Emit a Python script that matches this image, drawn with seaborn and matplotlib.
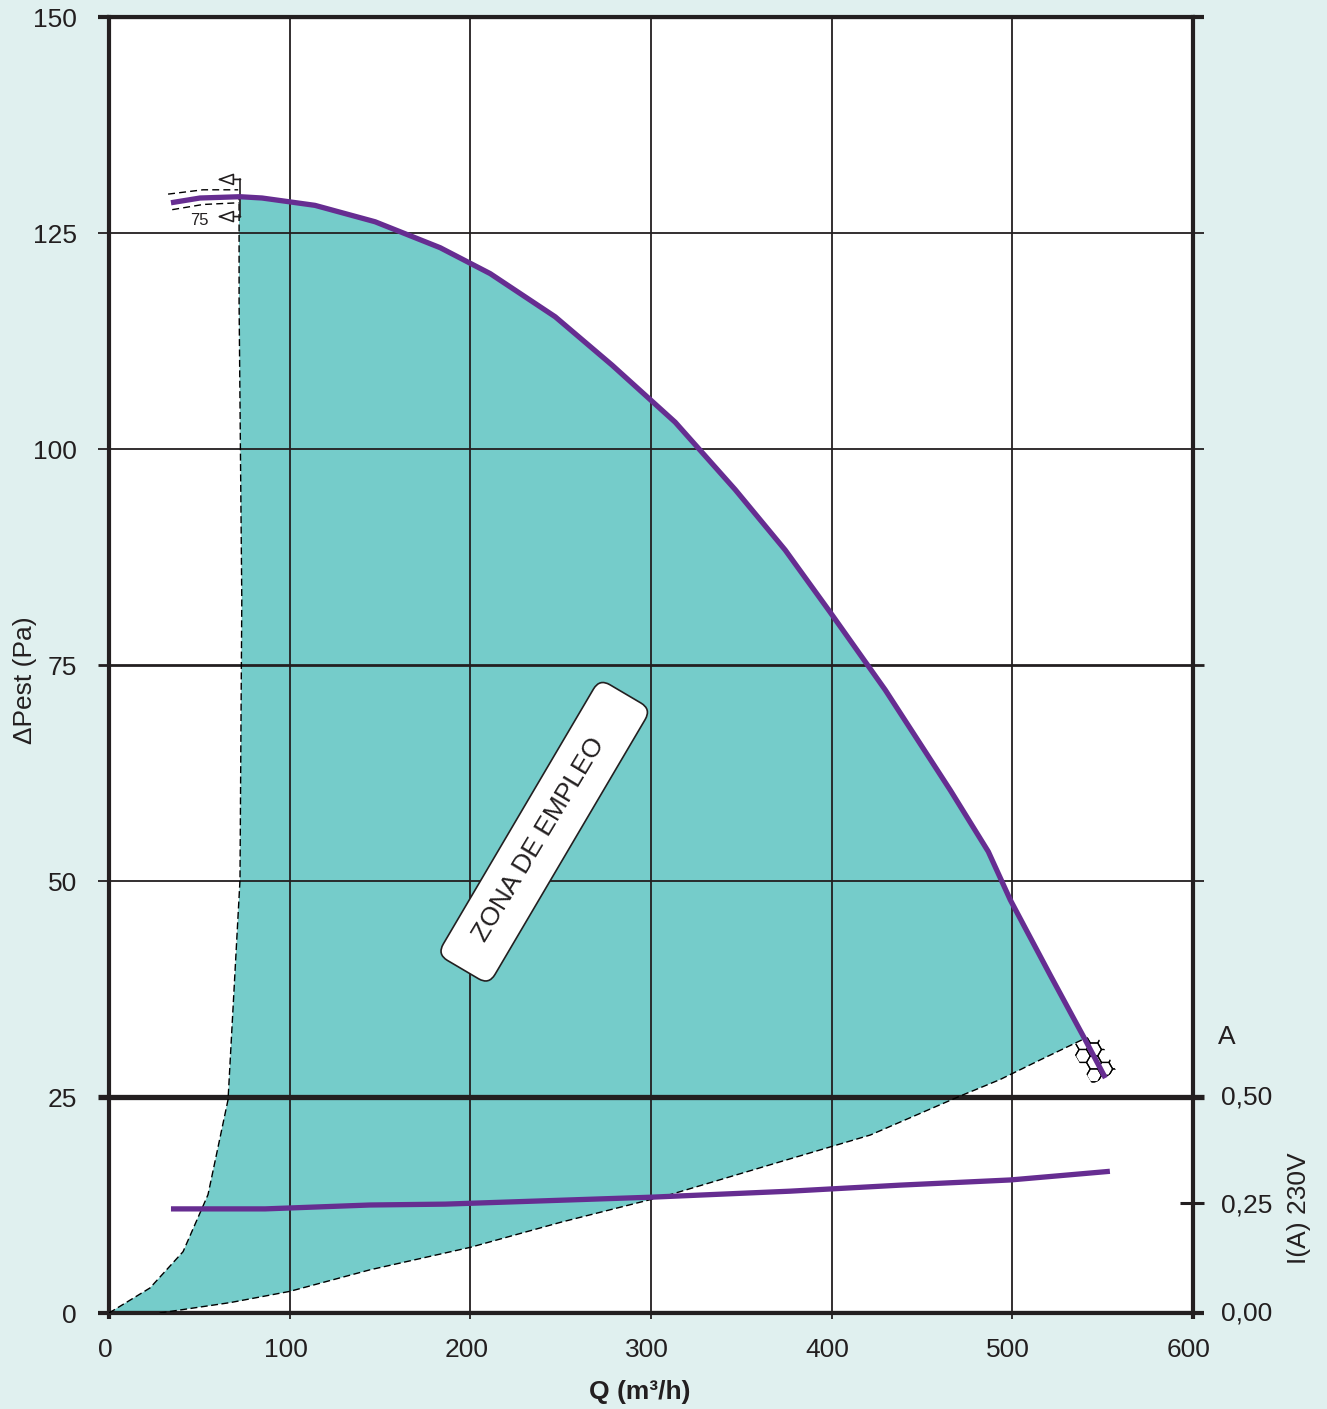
import matplotlib
matplotlib.use('Agg')
import matplotlib.pyplot as plt
import matplotlib.transforms as mtrans
from matplotlib.patches import FancyBboxPatch, Polygon
import pandas as pd
import seaborn as sns

# values
q_curve = [34.3, 50.4, 72.5, 84.7, 114, 147.3, 183.3, 211, 247, 278.5, 313.4, 346.6,
           374.3, 399.2, 429.7, 465.7, 486.7, 498.9, 521, 540.4, 551.5]
p_curve = [128.5, 129.05, 129.2, 129.05, 128.2, 126.3, 123.3, 120.3, 115.3, 109.7, 103.1, 95.3,
           88.3, 81.1, 72.1, 60.5, 53.4, 47.8, 39.1, 31.6, 27.2]

q_zone_left = [0, 22.7, 41, 54.8, 65.9, 72.5, 73.5, 72, 72]
p_zone_left = [0, 2.9, 7.1, 13.7, 24.7, 50.1, 82.5, 117, 129.2]
q_zone_low = [28, 67, 100, 144.5, 200, 250, 310.6, 371.5, 421.4, 471, 493, 515.5, 540.4]
p_zone_low = [0, 1.2, 2.5, 5, 7.6, 10.5, 13.7, 17.5, 20.6, 25.1, 27, 29.3, 31.8]

q_amps = [34.3, 86.4, 144.5, 186, 299.6, 377, 438, 499, 526.6, 554]
i_amps = [0.241, 0.241, 0.25, 0.252, 0.268, 0.282, 0.296, 0.308, 0.318, 0.328]

# dashed speed limits next to the top of the curve
q_lim_hi = [32.7, 52, 71.5]
p_lim_hi = [129.5, 130, 130]
q_lim_lo = [35, 52, 71.9]
p_lim_lo = [127.7, 128.3, 128.5]

x_ticks = [0, 100, 200, 300, 400, 500, 600]
y_ticks = [0, 25, 50, 75, 100, 125, 150]
y_widths = [3.0, 3.8, 1.3, 2.0, 1.3, 1.3, 3.0]
amp_ticks = [0.0, 0.25, 0.5]
amp_labels = ['0,00', '0,25', '0,50']

# honeycomb at the free-air end of the curve
q_hex = [532.8, 532.8, 532.8, 532.8, 532.8,
         539, 539, 539, 539, 539,
         545.2, 545.2, 545.2, 545.2, 545.2,
         551.4, 551.4, 551.4, 551.4, 551.4,
         557.6, 557.6, 557.6, 557.6, 557.6]
p_hex = [26, 27.5, 29, 30.5, 32,
         26.75, 28.25, 29.75, 31.25, 32.75,
         26, 27.5, 29, 30.5, 32,
         26.75, 28.25, 29.75, 31.25, 32.75,
         26, 27.5, 29, 30.5, 32]
q_strip = [532.1, 546, 557.6, 544.3]
p_strip = [30.8, 32.4, 28, 26.5]

BG = '#e0f0ef'
TEAL = '#75ccca'
PURPLE = '#662d91'
INK = '#231f20'

sns.set_style('white')
plt.rcParams['font.family'] = ['Liberation Sans', 'DejaVu Sans']
plt.rcParams['font.size'] = 19
plt.rcParams['text.color'] = INK

fig = plt.figure(figsize=(13.27, 14.09), dpi=100, facecolor=BG)
ax = fig.add_axes([109 / 1327, 1 - 1313 / 1409, (1193 - 109) / 1327, (1313 - 17) / 1409])
ax.set_facecolor('white')

# zone: left edge, along the fan curve, back along the lower edge
zone_q = q_zone_left + q_curve[3:-2] + [540.4] + q_zone_low[::-1]
zone_p = p_zone_left + p_curve[3:-2] + [31.8] + p_zone_low[::-1]
ax.fill(zone_q, zone_p, color=TEAL, lw=0, zorder=1)

ax.set_xlim(0, 600)
ax.set_ylim(0, 150)
ax.set_xticks(x_ticks)
ax.set_yticks(y_ticks)
ax.grid(True, color=INK, lw=1.3, zorder=2)
ax.set_axisbelow(False)

dash = dict(color='black', lw=1.0, zorder=3, sort=False, estimator=None)
sns.lineplot(x=q_zone_left, y=p_zone_left, ax=ax, ls=(0, (5, 2.5)), **dash)
sns.lineplot(x=q_zone_low, y=p_zone_low, ax=ax, ls=(0, (5, 2.5)), **dash)
sns.lineplot(x=q_lim_hi, y=p_lim_hi, ax=ax, ls=(0, (5, 3)), **dash)
sns.lineplot(x=q_lim_lo, y=p_lim_lo, ax=ax, ls=(0, (5, 3)), **dash)

# honeycomb, clipped to a tilted strip across the end of the curve
strip = Polygon(list(zip(q_strip, p_strip)), transform=ax.transData)
hexes = ax.scatter(q_hex, p_hex, marker='H', s=117, facecolor='none', edgecolor='black', lw=0.9, zorder=3)
hexes.set_clip_path(strip)

sns.lineplot(data=pd.DataFrame({'q': q_curve, 'p': p_curve}), x='q', y='p', ax=ax, sort=False,
             estimator=None, color=PURPLE, lw=3.8, zorder=5, solid_capstyle='butt')

# min speed bracket with the two little arrows
ax.plot([72.5, 72.5], [126.9, 131.2], color=INK, lw=1.2, zorder=4)
arrow = dict(arrowstyle='-|>,head_width=0.36,head_length=1.0', mutation_scale=10, fc='white', ec=INK, lw=1.2,
             shrinkA=0, shrinkB=0)
ax.annotate('', xy=(59.8, 131.2), xytext=(72.8, 131.2), arrowprops=arrow, zorder=4)
ax.annotate('', xy=(59.8, 126.9), xytext=(72.8, 126.9), arrowprops=arrow, zorder=4)
ax.text(49.8, 126.4, '75', fontsize=12, ha='center', va='center', zorder=4)

# label box is wider on the top end than the text, so draw it apart (sizes in px)
box_tr = mtrans.Affine2D().rotate_deg(59.5) + mtrans.ScaledTranslation(240.9, 55.7, ax.transData)
ax.add_patch(FancyBboxPatch((-160, -30), 320, 60, boxstyle='round,pad=0,rounding_size=12',
                            fc='white', ec=INK, lw=1.2, transform=box_tr, zorder=6))
ax.text(238, 54.8, 'ZONA DE EMPLEO', rotation=59, rotation_mode='anchor', ha='center', va='center',
        fontsize=19, zorder=7)

ax.set_xlabel('')
ax.set_ylabel('')
fig.text(640 / 1327, 1 - 1392 / 1409, 'Q (m³/h)', fontweight='bold', ha='center', va='center')
fig.text(25 / 1327, 1 - 680 / 1409, 'ΔPest (Pa)', rotation=90, ha='center', va='center')

# current on its own scale, sharing the frame
ax2 = ax.twinx()
ax2.set_ylim(0, 3)
ax2.set_yticks(amp_ticks)
ax2.set_yticklabels(amp_labels)
ax2.grid(False)
ax2.patch.set_visible(False)
for spine in ax2.spines.values():
    spine.set_visible(False)
ax2.tick_params(axis='y', length=0, pad=20, labelcolor=INK)
sns.lineplot(x=q_amps, y=i_amps, ax=ax2, sort=False, estimator=None, color=PURPLE, lw=3.8, solid_capstyle='butt')
ax2.set_ylabel('')

# the 0,25 tick crosses the frame, sits a touch above the true scale in the original
nudge = mtrans.ScaledTranslation(0, 2 / 100, fig.dpi_scale_trans)
ax2.plot([1], [0.25], marker=0, ms=9.4, mew=2.2, color=INK, ls='none', clip_on=False,
         transform=ax2.get_yaxis_transform() + nudge)
ax2.plot([1], [0.25], marker=1, ms=8, mew=2.2, color=INK, ls='none', clip_on=False,
         transform=ax2.get_yaxis_transform() + nudge)

# twinx moves the ticks of ax to the left only, so set them here
for spine in ax.spines.values():
    spine.set_color(INK)
    spine.set_linewidth(3)
ax.tick_params(axis='x', length=4.3, width=1.3, color=INK, labelcolor=INK, pad=14, bottom=True)
ax.tick_params(axis='y', length=8, color=INK, labelcolor=INK, left=True, right=True, labelright=False, pad=15)
for line, w in zip(ax.get_ygridlines(), y_widths):
    line.set_linewidth(w)
for tick, w in zip(ax.yaxis.get_major_ticks(), y_widths):
    tick.tick1line.set_markeredgewidth(w)
    tick.tick2line.set_markeredgewidth(w)
ax.xaxis.get_major_ticks()[0].tick1line.set_markeredgewidth(3)
ax.xaxis.get_major_ticks()[-1].tick1line.set_markeredgewidth(3)

shift_x = mtrans.ScaledTranslation(-4 / 100, 0, fig.dpi_scale_trans)
for label in ax.get_xticklabels():
    label.set_transform(label.get_transform() + shift_x)
shift_y = mtrans.ScaledTranslation(0, -0.5 / 100, fig.dpi_scale_trans)
for label in ax.get_yticklabels():
    label.set_transform(label.get_transform() + shift_y)
for label in ax2.get_yticklabels():
    label.set_transform(label.get_transform() + nudge)

fig.text(1227 / 1327, 1 - 1037 / 1409, 'A', ha='center', va='center')
fig.text(1299 / 1327, 1 - 1208 / 1409, 'I(A) 230V', rotation=90, ha='center', va='center')

fig.savefig('out.png', dpi=100, facecolor=BG)
